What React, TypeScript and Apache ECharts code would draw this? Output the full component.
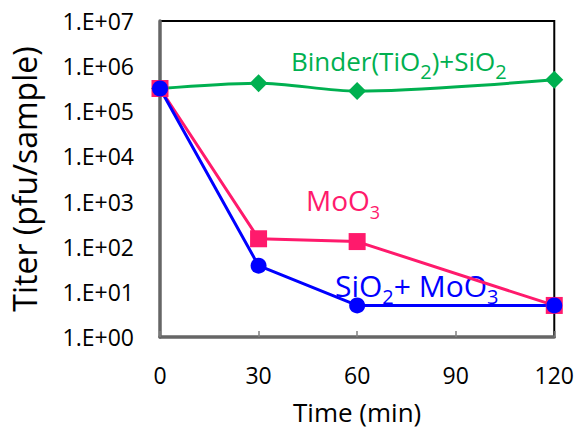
import React, { useEffect, useRef } from "react";
import * as echarts from "echarts";

const times = [0, 30, 60, 120];
const binderSiO2 = [320000, 420000, 280000, 500000];
const moO3 = [320000, 150, 130, 5];
const siO2MoO3 = [320000, 38, 5, 5];
const xTicks = [0, 30, 60, 90, 120];

const FONT = "'Open Sans', sans-serif";

function pairs(vals: number[]) {
  return times.map((t, i) => [t, vals[i]]);
}

export default function App() {
  const ref = useRef<HTMLDivElement>(null);
  useEffect(() => {
    if (!ref.current) return;
    const chart = echarts.init(ref.current, undefined, { renderer: "svg" });
    const sub = (pad: number, size: number, color: string) => ({
      fontSize: size,
      lineHeight: size,
      verticalAlign: "top",
      padding: [pad, 0, 0, 0],
      fontFamily: FONT,
      fill: color,
      color,
    });
    const main = (size: number, color: string) => ({
      fontSize: size,
      lineHeight: size,
      verticalAlign: "top",
      fontFamily: FONT,
      fill: color,
      color,
    });
    chart.setOption({
      animation: false,
      backgroundColor: "#fff",
      grid: {
        left: 160,
        right: 22,
        top: 21,
        bottom: 87,
        show: true,
        borderColor: "#000",
        borderWidth: 2,
      },
      xAxis: {
        type: "value",
        min: xTicks[0],
        max: xTicks[xTicks.length - 1],
        interval: 30,
        name: "Time (min)",
        nameLocation: "middle",
        nameGap: 62,
        nameTextStyle: { fontFamily: FONT, fontSize: 26, color: "#000" },
        axisLine: { lineStyle: { color: "#666666", width: 3.5 } },
        axisTick: { inside: true, length: 6, lineStyle: { color: "#808080", width: 1.5 } },
        axisLabel: { fontFamily: FONT, fontSize: 23, color: "#000", margin: 26 },
        splitLine: { show: false },
      },
      yAxis: {
        type: "log",
        logBase: 10,
        min: 1,
        max: 1e7,
        splitNumber: 7,
        name: "Titer (pfu/sample)",
        nameLocation: "middle",
        nameGap: 120,
        nameTextStyle: { fontFamily: FONT, fontSize: 32, color: "#000" },
        axisLine: { lineStyle: { color: "#666666", width: 3.5 } },
        axisTick: { show: false },
        axisLabel: {
          fontFamily: FONT,
          fontSize: 23,
          color: "#000",
          margin: 26,
          formatter: (v: number) => {
            const e = Math.round(Math.log10(v));
            return "1.E+" + String(e).padStart(2, "0");
          },
        },
        splitLine: { show: false },
      },
      series: [
        {
          name: "Binder(TiO2)+SiO2",
          type: "line",
          data: pairs(binderSiO2),
          smooth: 0.3,
          symbol: "diamond",
          symbolSize: 18,
          itemStyle: { color: "#00B050" },
          lineStyle: { color: "#00B050", width: 3 },
        },
        {
          name: "MoO3",
          type: "line",
          data: pairs(moO3),
          symbol: "rect",
          symbolSize: 17,
          itemStyle: { color: "#FF1A6C" },
          lineStyle: { color: "#FF1A6C", width: 3 },
        },
        {
          name: "SiO2+ MoO3",
          type: "line",
          data: pairs(siO2MoO3),
          symbol: "circle",
          symbolSize: 16,
          itemStyle: { color: "#0000FF" },
          lineStyle: { color: "#0000FF", width: 3 },
        },
      ],
      graphic: [
        {
          type: "text",
          x: 291,
          y: 48,
          style: {
            text: "{a|Binder(TiO}{s|2}{a|)+SiO}{s|2}",
            fill: "#00B050",
            rich: { a: main(26, "#00B050"), s: sub(13, 20, "#00B050") },
          },
        },
        {
          type: "text",
          x: 306,
          y: 186,
          style: {
            text: "{a|MoO}{s|3}",
            fill: "#FF1A6C",
            rich: { a: main(28, "#FF1A6C"), s: sub(17, 18, "#FF1A6C") },
          },
        },
        {
          type: "text",
          x: 335,
          y: 270,
          style: {
            text: "{a|SiO}{s|2}{a|+ MoO}{s|3}",
            fill: "#0000FF",
            rich: { a: main(30, "#0000FF"), s: sub(16, 20, "#0000FF") },
          },
        },
      ],
    });
    return () => chart.dispose();
  }, []);
  return (
    <div
      ref={ref}
      style={{ position: "fixed", left: 0, top: 0, width: 577, height: 430 }}
    />
  );
}
